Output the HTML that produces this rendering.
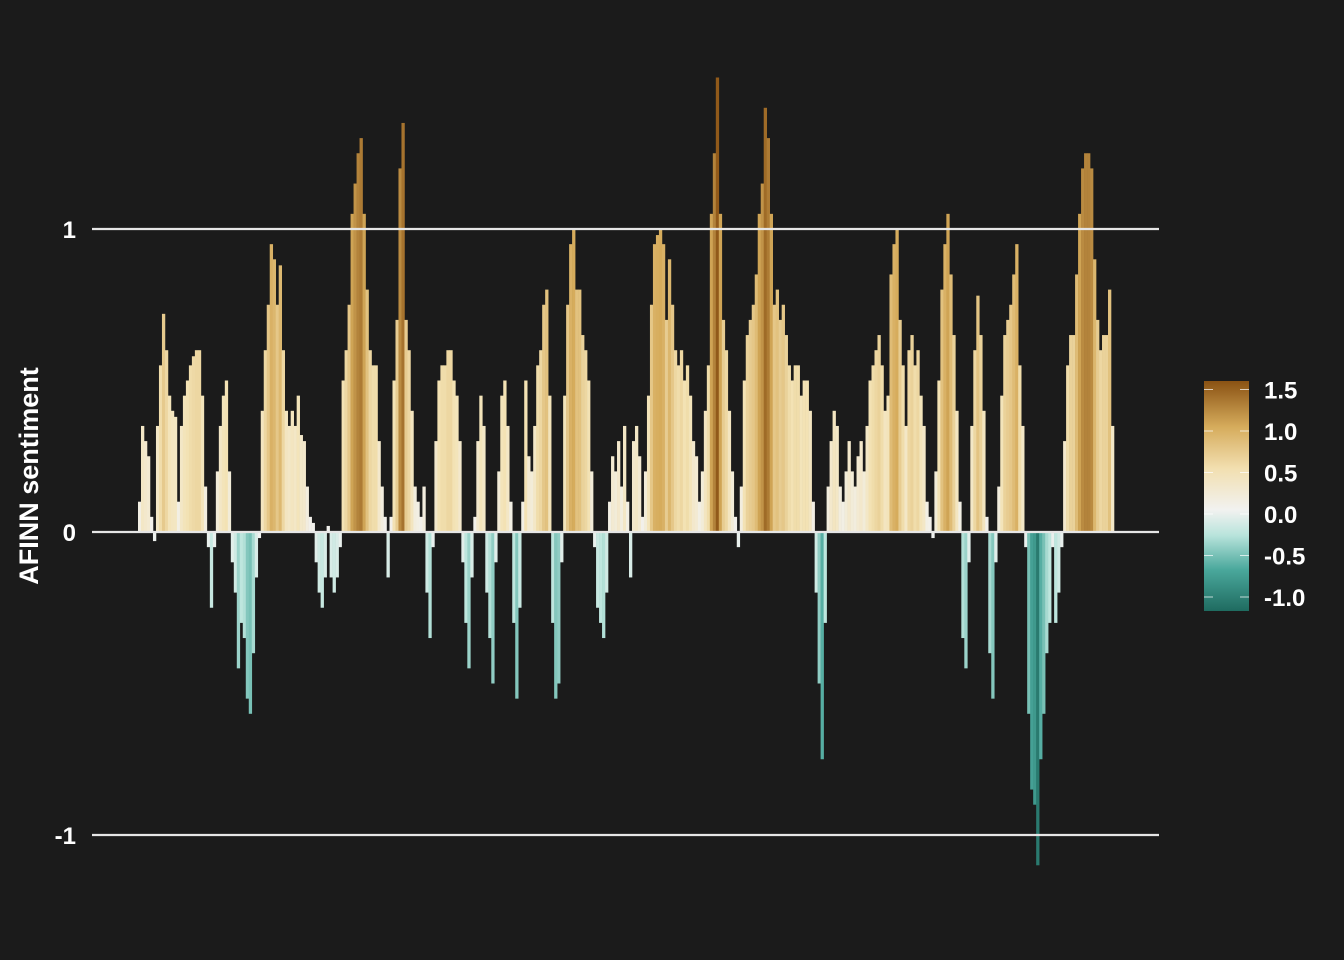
<!DOCTYPE html>
<html><head><meta charset="utf-8"><style>
html,body{margin:0;padding:0;background:#1b1b1b;}
svg{display:block;font-family:"Liberation Sans",sans-serif;}
</style></head><body>
<svg id="chart" width="1344" height="960">
<defs>
<linearGradient id="cbar" x1="0" y1="1" x2="0" y2="0">
<stop offset="0" stop-color="#1f6b60"/>
<stop offset="0.18" stop-color="#4aa89c"/>
<stop offset="0.33" stop-color="#b9e4dc"/>
<stop offset="0.44" stop-color="#f2f2f0"/>
<stop offset="0.62" stop-color="#f2dfb0"/>
<stop offset="0.8" stop-color="#d6ac5c"/>
<stop offset="1" stop-color="#8a5213"/>
</linearGradient>
</defs>
<g id="grid"></g>
<g id="bars"></g>
<text x="38" y="476" transform="rotate(-90 38 476)" text-anchor="middle" fill="#ffffff" font-size="27" font-weight="bold">AFINN sentiment</text>
<g id="ylabels"></g>
<rect x="1204" y="381" width="45" height="230" fill="url(#cbar)"/>
<g id="legend"></g>
</svg>
<script>
const values = [0.1,0.35,0.3,0.25,0.05,-0.03,
0.35,0.55,0.72,0.6,0.45,0.4,0.38,0.1,0.35,
0.45,0.5,0.55,0.58,0.6,0.6,0.45,0.15,
-0.05,-0.25,-0.05,0.2,0.35,0.45,0.5,0.2,
-0.1,-0.2,-0.45,-0.3,-0.35,-0.55,-0.6,-0.4,-0.15,-0.02,
0.4,0.6,0.75,0.95,0.9,0.75,0.88,0.6,0.4,0.35,0.4,0.35,0.45,0.32,0.3,0.15,0.05,
0.03,-0.1,-0.2,-0.25,-0.15,0.02,-0.15,-0.2,-0.15,-0.05,
0.5,0.6,0.75,1.05,1.15,1.25,1.3,1.05,0.8,0.6,0.55,0.55,0.3,
0.15,0.05,-0.15,0.05,
0.5,0.7,1.2,1.35,0.7,0.6,0.4,0.15,0.1,0.05,0.15,
-0.2,-0.35,-0.05,
0.3,0.5,0.55,0.55,0.6,0.6,0.5,0.45,0.3,
-0.1,-0.3,-0.45,-0.15,0.05,0.3,0.45,0.35,
-0.2,-0.35,-0.5,-0.1,0.2,0.45,0.5,0.35,0.1,
-0.3,-0.55,-0.25,
0.1,0.5,0.25,0.2,0.35,0.55,0.6,0.75,0.8,0.45,
-0.3,-0.55,-0.5,-0.1,
0.45,0.75,0.95,1.0,0.8,0.8,0.65,0.6,0.5,0.2,
-0.05,-0.25,-0.3,-0.35,-0.2,
0.1,0.25,0.2,0.3,0.15,0.35,0.1,-0.15,0.3,0.35,0.25,0.05,
0.2,0.45,0.75,0.95,0.98,1.0,0.95,0.7,0.9,0.75,0.6,0.55,0.6,0.5,0.55,0.45,0.3,0.25,0.1,
0.2,0.4,0.55,1.05,1.25,1.5,1.05,0.7,0.6,0.4,0.2,0.05,-0.05,0.15,
0.5,0.65,0.7,0.75,0.85,1.05,1.15,1.4,1.3,1.05,0.75,0.8,0.7,0.75,0.65,0.55,
0.5,0.55,0.55,0.45,0.5,0.5,0.4,0.1,
-0.2,-0.5,-0.75,-0.3,
0.15,0.3,0.4,0.35,0.15,0.1,0.2,0.3,0.2,0.15,0.25,0.3,0.2,0.35,
0.5,0.55,0.6,0.65,0.55,0.4,0.45,0.85,0.95,1.0,
0.7,0.55,0.35,0.6,0.65,0.55,0.6,0.45,0.35,0.1,0.05,-0.02,
0.2,0.5,0.8,0.95,1.05,0.85,0.65,0.4,0.1,
-0.35,-0.45,-0.1,
0.35,0.6,0.78,0.65,0.4,0.05,
-0.4,-0.55,-0.1,
0.15,0.45,0.65,0.7,0.75,0.85,0.95,0.55,0.35,
-0.05,-0.6,-0.85,-0.9,-1.1,-0.75,-0.6,-0.4,-0.3,-0.05,-0.3,-0.2,-0.05,
0.3,0.55,0.65,0.65,0.85,1.05,1.2,1.25,1.25,1.2,0.9,0.7,0.6,0.65,0.65,0.8,0.35];
const yTicks = [1, 0, -1];
const yTickLabels = ["1", "0", "-1"];
const legendTicks = [1.5, 1.0, 0.5, 0.0, -0.5, -1.0];
const legendLabels = ["1.5", "1.0", "0.5", "0.0", "-0.5", "-1.0"];

const NS = "http://www.w3.org/2000/svg";
const y = v => 532 - v * 303;
const xStart = 138, xEnd = 1114;
const bw = (xEnd - xStart) / values.length;
const x = i => xStart + i * bw;
const ly = v => 514 - v * 83;

function lerp(a,b,t){return a.map((c,i)=>Math.round(c+(b[i]-c)*t));}
const stops = [[-1.2,[31,107,96]],[-0.8,[74,168,156]],[-0.3,[190,230,222]],[0,[242,242,240]],[0.5,[243,226,180]],[1.0,[214,172,92]],[1.55,[138,82,19]]];
function color(v){
  for(let k=0;k<stops.length-1;k++){
    if(v<=stops[k+1][0]){const t=Math.max(0,(v-stops[k][0])/(stops[k+1][0]-stops[k][0]));const c=lerp(stops[k][1],stops[k+1][1],t);return `rgb(${c[0]},${c[1]},${c[2]})`;}
  }
  return "rgb(138,82,19)";
}

const grid = document.getElementById('grid');
const ylab = document.getElementById('ylabels');
yTicks.forEach((t,i)=>{
  const l = document.createElementNS(NS,'line');
  l.setAttribute('x1',92); l.setAttribute('x2',1159);
  l.setAttribute('y1',y(t)); l.setAttribute('y2',y(t));
  l.setAttribute('stroke','#e6e6e6'); l.setAttribute('stroke-width',2.2);
  
  
  grid.appendChild(l);
  const tx = document.createElementNS(NS,'text');
  tx.setAttribute('x',76); tx.setAttribute('y',y(t)+9);
  tx.setAttribute('text-anchor','end'); tx.setAttribute('fill','#fff');
  tx.setAttribute('font-size','24'); tx.setAttribute('font-weight','bold');
  tx.textContent = yTickLabels[i];
  
  
  ylab.appendChild(tx);
});

const bars = document.getElementById('bars');
values.forEach((v,i)=>{
  const r = document.createElementNS(NS,'rect');
  r.setAttribute('x',x(i)); r.setAttribute('width',bw+0.3);
  r.setAttribute('y',Math.min(y(v),532)); r.setAttribute('height',Math.abs(y(v)-532));
  r.setAttribute('fill',color(v));
  
  
  bars.appendChild(r);
});
grid.parentNode.appendChild(grid);

const leg = document.getElementById('legend');
legendTicks.forEach((t,i)=>{
  [1204,1240].forEach(x0=>{
    const l = document.createElementNS(NS,'line');
    l.setAttribute('x1',x0); l.setAttribute('x2',x0+9);
    l.setAttribute('y1',ly(t)); l.setAttribute('y2',ly(t));
    l.setAttribute('stroke','#fff'); l.setAttribute('stroke-opacity','0.7'); l.setAttribute('stroke-width',1);
    
    
    leg.appendChild(l);
  });
  const tx = document.createElementNS(NS,'text');
  tx.setAttribute('x',1264); tx.setAttribute('y',ly(t)+9);
  tx.setAttribute('fill','#fff'); tx.setAttribute('font-size','24'); tx.setAttribute('font-weight','bold');
  tx.textContent = legendLabels[i];
  
  
  leg.appendChild(tx);
});
</script>
</body></html>
